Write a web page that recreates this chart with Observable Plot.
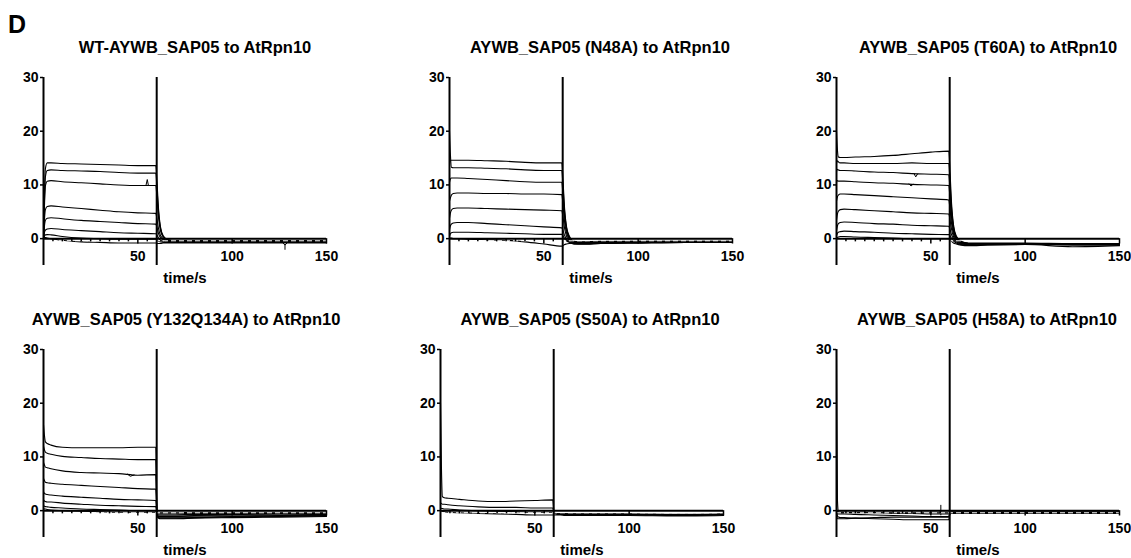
<!DOCTYPE html>
<html>
<head>
<meta charset="utf-8">
<script src="https://cdn.jsdelivr.net/npm/d3@7"></script>
<script src="https://cdn.jsdelivr.net/npm/@observablehq/plot@0.6"></script>
<style>
  body { margin: 0; background: #fff; }
  #root { position: relative; width: 1131px; height: 558px; overflow: hidden; font-family: "Liberation Sans", Arial, sans-serif; color: #000; }
  .panel { position: absolute; }
  .panel svg { max-width: none !important; }
  #letter { position: absolute; left: 8px; top: 12px; font-size: 25px; font-weight: bold; line-height: 1; }
</style>
</head>
<body>
<div id="root"><div id="letter">D</div></div>
<script>
// Common sampling times (s)
const T = [0, 0.5, 1, 2, 4, 10, 20, 30, 40, 50, 59.5, 60.2, 61, 62, 63.5, 66, 70, 80, 100, 125, 150];

const titles = [
  "WT-AYWB_SAP05 to AtRpn10",
  "AYWB_SAP05 (N48A) to AtRpn10",
  "AYWB_SAP05 (T60A) to AtRpn10",
  "AYWB_SAP05 (Y132Q134A) to AtRpn10",
  "AYWB_SAP05 (S50A) to AtRpn10",
  "AYWB_SAP05 (H58A) to AtRpn10"
];

const yTicks = [0, 10, 20, 30];
const xTicks = [50, 100, 150];
const xMinorTicks = [5, 10, 15, 20, 25, 30, 35, 40, 45, 55];
const injectionEnd = [60];
const refLevel = [-0.4];

// Response curves (RU) at times T
const wtCurves = [
  [0, 8, 13, 14.1, 14.1, 14.0, 13.9, 13.8, 13.7, 13.6, 13.6, 10.2, 5.4, 2.2, 0.5, -0.2, -0.4, -0.4, -0.4, -0.4, -0.4],
  [0, 7, 11.5, 12.7, 12.8, 12.7, 12.6, 12.5, 12.3, 12.2, 12.2, 9.1, 4.8, 1.9, 0.4, -0.2, -0.4, -0.4, -0.4, -0.4, -0.4],
  [0, 6, 9.8, 10.7, 10.8, 10.6, 10.4, 10.2, 10.0, 9.9, 9.9, 7.4, 3.8, 1.5, 0.3, -0.3, -0.5, -0.5, -0.5, -0.5, -0.5],
  [0, 3.5, 5.4, 6.0, 6.1, 5.9, 5.6, 5.3, 5.0, 4.8, 4.7, 3.5, 1.8, 0.6, 0, -0.4, -0.5, -0.5, -0.5, -0.5, -0.5],
  [0, 2.3, 3.4, 3.8, 3.9, 3.7, 3.4, 3.2, 3.0, 2.8, 2.7, 2.0, 0.9, 0.2, -0.2, -0.5, -0.6, -0.6, -0.6, -0.5, -0.5],
  [0, 1.1, 1.6, 1.8, 1.9, 1.7, 1.5, 1.3, 1.1, 1.0, 0.9, 0.6, 0.1, -0.3, -0.5, -0.6, -0.6, -0.6, -0.6, -0.6, -0.6],
  [0, 0.5, 0.7, 0.75, 0.7, 0.4, 0.1, 0, -0.1, -0.1, -0.1, -0.3, -0.5, -0.6, -0.7, -0.7, -0.7, -0.7, -0.7, -0.7, -0.7],
  [0, 0.2, 0.2, 0.1, 0, -0.3, -0.6, -0.7, -0.8, -0.8, -0.8, -0.9, -0.9, -0.9, -0.8, -0.8, -0.8, -0.8, -0.8, -0.8, -0.8]
];
const wtGlitches = [
  [[54.3, 9.9], [55, 11.0], [55.6, 9.9]],
  [[125.5, -0.3], [128, -1.2], [130.5, -0.3]],
  [[128, -1.2], [128, -2.0]]
];

const n48aCurves = [
  [14.0, 14.6, 14.6, 14.6, 14.6, 14.6, 14.5, 14.4, 14.2, 14.1, 14.1, 10.6, 5.6, 2.3, 0.5, -0.5, -0.6, -0.5, -0.5, -0.5, -0.5],
  [20, 15.5, 13.3, 13.2, 13.2, 13.2, 13.1, 13.0, 12.8, 12.7, 12.7, 9.5, 5.0, 2.0, 0.3, -0.6, -0.7, -0.6, -0.5, -0.5, -0.5],
  [10.5, 11.1, 11.3, 11.3, 11.3, 11.2, 11.0, 10.8, 10.6, 10.5, 10.5, 7.9, 4.1, 1.6, 0.1, -0.7, -0.8, -0.7, -0.6, -0.6, -0.6],
  [7.0, 7.6, 8.1, 8.4, 8.5, 8.5, 8.4, 8.4, 8.3, 8.3, 8.2, 6.2, 3.1, 1.1, -0.1, -0.8, -0.9, -0.8, -0.7, -0.6, -0.6],
  [3.8, 4.8, 5.3, 5.6, 5.7, 5.7, 5.6, 5.5, 5.4, 5.3, 5.2, 3.9, 1.9, 0.5, -0.4, -0.9, -1.0, -0.9, -0.8, -0.7, -0.7],
  [1.7, 2.4, 2.7, 2.9, 3.0, 3.0, 2.8, 2.6, 2.4, 2.2, 2.0, 1.5, 0.6, -0.1, -0.6, -1.0, -1.0, -0.9, -0.8, -0.7, -0.7],
  [0.5, 0.9, 1.1, 1.2, 1.2, 1.2, 1.1, 1.0, 0.9, 0.8, 0.8, 0.5, 0, -0.4, -0.7, -1.0, -1.0, -0.9, -0.8, -0.7, -0.7],
  [0, 0.1, 0.1, 0, 0, -0.1, -0.2, -0.3, -0.6, -1.0, -1.4, -1.3, -1.1, -1.0, -0.9, -0.8, -0.8, -0.7, -0.7, -0.6, -0.6]
];
const n48aGlitches = [];

const t60aCurves = [
  [20, 16.5, 15.2, 15.1, 15.1, 15.2, 15.3, 15.5, 15.8, 16.1, 16.3, 12.2, 6.5, 2.6, 0.5, -0.5, -0.8, -0.8, -0.8, -0.9, -0.9],
  [14.0, 14.5, 14.3, 14.1, 14.1, 14.0, 14.0, 14.0, 14.1, 14.0, 14.0, 10.5, 5.6, 2.2, 0.3, -0.6, -0.9, -0.9, -0.9, -0.9, -0.9],
  [12.5, 12.9, 12.8, 12.7, 12.7, 12.6, 12.4, 12.3, 12.1, 12.0, 11.9, 8.9, 4.7, 1.8, 0.2, -0.7, -0.9, -0.9, -0.9, -1.0, -1.0],
  [10.5, 10.8, 10.7, 10.7, 10.7, 10.6, 10.4, 10.3, 10.1, 10.0, 9.9, 7.4, 3.9, 1.4, 0, -0.7, -0.9, -0.9, -0.9, -1.0, -1.0],
  [7.0, 7.8, 8.1, 8.3, 8.3, 8.2, 8.0, 7.8, 7.6, 7.4, 7.2, 5.4, 2.8, 0.9, -0.2, -0.8, -1.0, -1.0, -1.0, -1.0, -1.1],
  [3.5, 4.6, 5.1, 5.4, 5.5, 5.4, 5.2, 5.0, 4.8, 4.7, 4.6, 3.4, 1.7, 0.4, -0.4, -0.9, -1.0, -1.0, -1.0, -1.1, -1.1],
  [1.5, 2.4, 2.8, 3.0, 3.1, 3.0, 2.8, 2.7, 2.5, 2.4, 2.3, 1.7, 0.7, 0, -0.6, -1.0, -1.1, -1.0, -1.0, -1.1, -1.1],
  [0.5, 1.0, 1.2, 1.3, 1.4, 1.3, 1.2, 1.0, 0.9, 0.8, 0.75, 0.5, 0, -0.4, -0.8, -1.1, -1.2, -1.1, -1.0, -1.2, -1.2],
  [0, 0.2, 0.3, 0.4, 0.4, 0.3, 0.2, 0.1, 0, 0, 0, -0.2, -0.5, -0.8, -1.0, -1.2, -1.3, -1.2, -1.1, -1.5, -1.3]
];
const t60aGlitches = [
  [[41, 12.15], [42, 11.5], [43, 12.05]],
  [[38.5, 10.2], [39.5, 9.8], [40.5, 10.1]]
];

const y132Curves = [
  [16, 14, 12.8, 12.5, 12.2, 11.8, 11.7, 11.7, 11.7, 11.8, 11.8, -1.0, -1.4, -1.5, -1.5, -1.5, -1.5, -1.4, -1.3, -1.2, -1.1],
  [12, 11.3, 10.9, 10.7, 10.5, 10.1, 9.9, 9.7, 9.6, 9.5, 9.5, -0.9, -1.3, -1.4, -1.4, -1.4, -1.4, -1.3, -1.2, -1.1, -1.0],
  [9, 8.5, 8.1, 8.0, 7.8, 7.4, 7.1, 7.0, 6.9, 6.6, 6.7, -0.8, -1.2, -1.2, -1.2, -1.2, -1.2, -1.2, -1.1, -1.0, -0.9],
  [6, 5.6, 5.3, 5.2, 5.1, 4.9, 4.7, 4.5, 4.3, 4.1, 4.0, -0.7, -1.1, -1.1, -1.1, -1.1, -1.1, -1.0, -1.0, -0.9, -0.8],
  [3.5, 3.2, 3.1, 3.0, 2.9, 2.7, 2.5, 2.3, 2.1, 2.0, 1.9, -0.6, -1.0, -1.0, -1.0, -1.0, -1.0, -0.9, -0.8, -0.8, -0.7],
  [2, 1.8, 1.7, 1.6, 1.6, 1.4, 1.2, 1.0, 0.9, 0.8, 0.75, -0.5, -0.8, -0.8, -0.8, -0.8, -0.8, -0.7, -0.7, -0.6, -0.6],
  [1, 0.8, 0.75, 0.7, 0.6, 0.5, 0.3, 0.2, 0.1, 0, 0, -0.4, -0.6, -0.6, -0.6, -0.6, -0.6, -0.5, -0.5, -0.5, -0.5],
  [0.4, 0.3, 0.3, 0.2, 0.1, 0, -0.1, -0.2, -0.3, -0.3, -0.3, -0.3, -0.4, -0.4, -0.4, -0.4, -0.4, -0.3, -0.3, -0.3, -0.3]
];
const y132Glitches = [
  [[44.5, 6.8], [46, 6.4], [48, 6.65]]
];

const s50aCurves = [
  [20, 8, 2.6, 2.4, 2.3, 2.1, 1.8, 1.7, 1.8, 1.9, 2.0, -0.3, -0.5, -0.6, -0.6, -0.6, -0.6, -0.6, -0.6, -0.7, -0.6],
  [1.5, 1.3, 1.2, 1.2, 1.1, 0.9, 0.7, 0.6, 0.6, 0.5, 0.5, -0.4, -0.5, -0.6, -0.6, -0.6, -0.7, -0.7, -0.7, -0.8, -0.7],
  [0.5, 0.4, 0.4, 0.3, 0.3, 0.1, 0, -0.1, -0.2, -0.3, -0.3, -0.5, -0.6, -0.7, -0.7, -0.7, -0.8, -0.8, -0.8, -0.9, -0.8],
  [0, 0, -0.1, -0.2, -0.3, -0.4, -0.5, -0.6, -0.7, -0.8, -0.8, -0.8, -0.8, -0.8, -0.8, -0.9, -0.9, -0.9, -0.9, -1.0, -0.9]
];
const s50aGlitches = [];

const h58aCurves = [
  [30, 2, -0.3, -0.3, -0.3, -0.3, -0.3, -0.3, -0.3, -0.3, -0.3, -0.3, -0.2, -0.2, -0.2, -0.2, -0.2, -0.2, -0.2, -0.2, -0.2],
  [0, -1.5, -1.5, -1.5, -1.5, -1.4, -1.3, -1.2, -1.2, -1.2, -1.2, -0.5, -0.4, -0.4, -0.4, -0.4, -0.4, -0.4, -0.4, -0.4, -0.4],
  [0, -1.0, -1.2, -1.3, -1.3, -1.4, -1.5, -1.6, -1.7, -1.7, -1.7, -0.6, -0.5, -0.5, -0.5, -0.5, -0.5, -0.5, -0.5, -0.5, -0.5],
  [0, -0.5, -0.6, -0.6, -0.6, -0.7, -0.8, -0.9, -1.0, -1.1, -1.1, -0.5, -0.4, -0.4, -0.4, -0.4, -0.4, -0.4, -0.4, -0.4, -0.4],
  [0, -0.2, -0.3, -0.3, -0.3, -0.4, -0.4, -0.5, -0.5, -0.6, -0.6, -0.4, -0.3, -0.3, -0.3, -0.3, -0.3, -0.3, -0.3, -0.3, -0.3]
];
const h58aGlitches = [
  [[55.3, -0.8], [55.3, 1.0]]
];

const panels = [
  {curves: wtCurves, glitches: wtGlitches, title: titles[0], left: 0, top: 0, row: 0, tdx: 10},
  {curves: n48aCurves, glitches: n48aGlitches, title: titles[1], left: 406, top: 0, row: 0, tdx: 9},
  {curves: t60aCurves, glitches: t60aGlitches, title: titles[2], left: 793, top: 0, row: 0, tdx: 10},
  {curves: y132Curves, glitches: y132Glitches, title: titles[3], left: 0, top: 279, row: 1, tdx: 1},
  {curves: s50aCurves, glitches: s50aGlitches, title: titles[4], left: 397, top: 279, row: 1, tdx: 8},
  {curves: h58aCurves, glitches: h58aGlitches, title: titles[5], left: 793, top: 279, row: 1, tdx: 9}
];

const root = document.getElementById("root");
const FONT = "'Liberation Sans', Arial, Helvetica, sans-serif";

for (const p of panels) {
  const rows = p.curves.flatMap((c, i) => c.map((v, j) => ({t: T[j], v, k: i})));
  const grows = p.glitches.flatMap((g, i) => g.map(([t, v]) => ({t, v, k: i})));
  const marginTop = p.row === 0 ? 77 : 70;
  const height = p.row === 0 ? 285 : 278;
  const chart = Plot.plot({
    width: 343,
    height,
    marginLeft: 43,
    marginRight: 17,
    marginTop,
    marginBottom: 20,
    style: {fontFamily: FONT, background: "transparent", color: "#000", overflow: "visible", maxWidth: "none"},
    x: {domain: [0, 150], axis: null},
    y: {domain: [-5, 30]},
    marks: [
      Plot.line(rows, {x: "t", y: "v", z: "k", stroke: "#000", strokeWidth: 1.1, curve: "monotone-x"}),
      Plot.line(grows, {x: "t", y: "v", z: "k", stroke: "#000", strokeWidth: 1}),
      Plot.ruleY(refLevel, {x1: 0, x2: 150, stroke: "#fff", strokeWidth: 1, strokeDasharray: "5,3"}),
      Plot.ruleY([0], {x1: 0, x2: 150, stroke: "#000", strokeWidth: 2}),
      Plot.ruleX(xMinorTicks, {y1: 0, y2: -0.6, stroke: "#000", strokeWidth: 1.5}),
      Plot.ruleX(xTicks, {y1: 0, y2: -1.0, stroke: "#000", strokeWidth: 1.5}),
      Plot.text(xTicks, {x: d => d, y: 0, dy: 18, text: d => String(d), fontSize: 14, fontWeight: "bold", fill: "#000"}),
      Plot.ruleX([0], {stroke: "#000", strokeWidth: 2}),
      Plot.ruleX(injectionEnd, {stroke: "#000", strokeWidth: 2}),
      Plot.axisY({ticks: yTicks, tickSize: 3, tickPadding: 2, fontSize: 14, fontWeight: "bold", label: null, stroke: "#000", strokeWidth: 1.5}),
      Plot.text([p.title], {text: d => d, frameAnchor: "top", lineAnchor: "middle", dy: -30, dx: p.tdx, fontSize: 16.5, fontWeight: "bold", fill: "#000"}),
      Plot.text(["time/s"], {text: d => d, frameAnchor: "bottom", lineAnchor: "middle", dy: 13, fontSize: 15, fontWeight: "bold", fill: "#000"})
    ]
  });
  const div = document.createElement("div");
  div.className = "panel";
  div.style.left = p.left + "px";
  div.style.top = p.top + "px";
  div.appendChild(chart);
  root.appendChild(div);
}
</script>
</body>
</html>
